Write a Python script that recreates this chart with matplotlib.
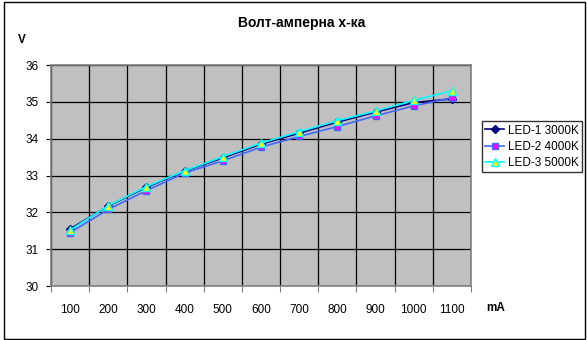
import numpy as np
import matplotlib.pyplot as plt
from matplotlib.patches import Rectangle

plt.rcParams['font.family'] = ['Liberation Sans', 'DejaVu Sans']

# Current in mA (category axis) and forward voltage of each LED
currents = [100, 200, 300, 400, 500, 600, 700, 800, 900, 1000, 1100]
led1 = [31.55, 32.17, 32.68, 33.12, 33.48, 33.85, 34.15, 34.45, 34.72, 34.98, 35.08]
led2 = [31.45, 32.08, 32.59, 33.07, 33.40, 33.77, 34.06, 34.33, 34.62, 34.89, 35.11]
led3 = [31.52, 32.18, 32.70, 33.13, 33.51, 33.88, 34.19, 34.49, 34.75, 35.04, 35.30]
labels = ['LED-1 3000K', 'LED-2 4000K', 'LED-3 5000K']

fig = plt.figure(figsize=(5.87, 3.40), dpi=100)
ax = fig.add_axes([0.0869, 0.1588, 0.7155, 0.65])
ax.set_facecolor('#C0C0C0')

x = np.arange(len(currents))
ax.plot(x, led1, color='#000080', lw=1.2, marker='D', ms=4,
        mfc='#000080', mec='#000080', label=labels[0], zorder=3)
ax.plot(x, led2, color='#4169FF', lw=1.2, marker='s', ms=5,
        mfc='#FF00FF', mec='#4169FF', label=labels[1], zorder=4)
ax.plot(x, led3, color='#00FFFF', lw=1.2, marker='^', ms=5.5,
        mfc='#FFFF00', mec='#00FFFF', label=labels[2], zorder=5)

ax.set_xlim(-0.5, len(currents) - 0.5)
ax.set_ylim(30, 36)

# gridlines sit between categories, labels in the middle
ax.set_xticks(np.arange(-0.5, len(currents), 1))
ax.set_xticklabels([])
ax.set_xticks(x, minor=True)
ax.set_xticklabels([str(c) for c in currents], minor=True, fontsize=8.5)
ax.tick_params(axis='x', which='major', length=4, color='#808080', direction='out')
ax.tick_params(axis='x', which='minor', length=0, pad=13)
ax.set_yticks(range(30, 37))
ax.tick_params(axis='y', length=3.6, direction='out', labelsize=8.5, pad=5.5)
ax.grid(True, which='major', color='black', lw=0.9)
ax.set_axisbelow(True)
for s in ax.spines.values():
    s.set_color('#808080')
    s.set_linewidth(1.2)

fig.text(0.513, 0.932, 'Волт-амперна х-ка', ha='center', va='center',
         fontsize=10, fontweight='bold')
fig.text(0.037, 0.882, 'V', ha='center', va='center', fontsize=8.5, fontweight='bold')
fig.text(0.845, 0.094, 'mA', ha='center', va='center', fontsize=8.5, fontweight='bold')

leg = fig.legend(loc='upper left', bbox_to_anchor=(0.821, 0.644), fontsize=8.5,
                 frameon=True, fancybox=False, borderpad=0.3, labelspacing=0.35,
                 handlelength=1.6, handletextpad=0.3, borderaxespad=0)
leg.get_frame().set_edgecolor('black')
leg.get_frame().set_linewidth(1.0)

# outer chart border
fig.patches.append(Rectangle((0.006, 0.003), 0.99, 0.99, transform=fig.transFigure,
                             fill=False, edgecolor='black', lw=1.0))

fig.savefig('out.png', dpi=100)
